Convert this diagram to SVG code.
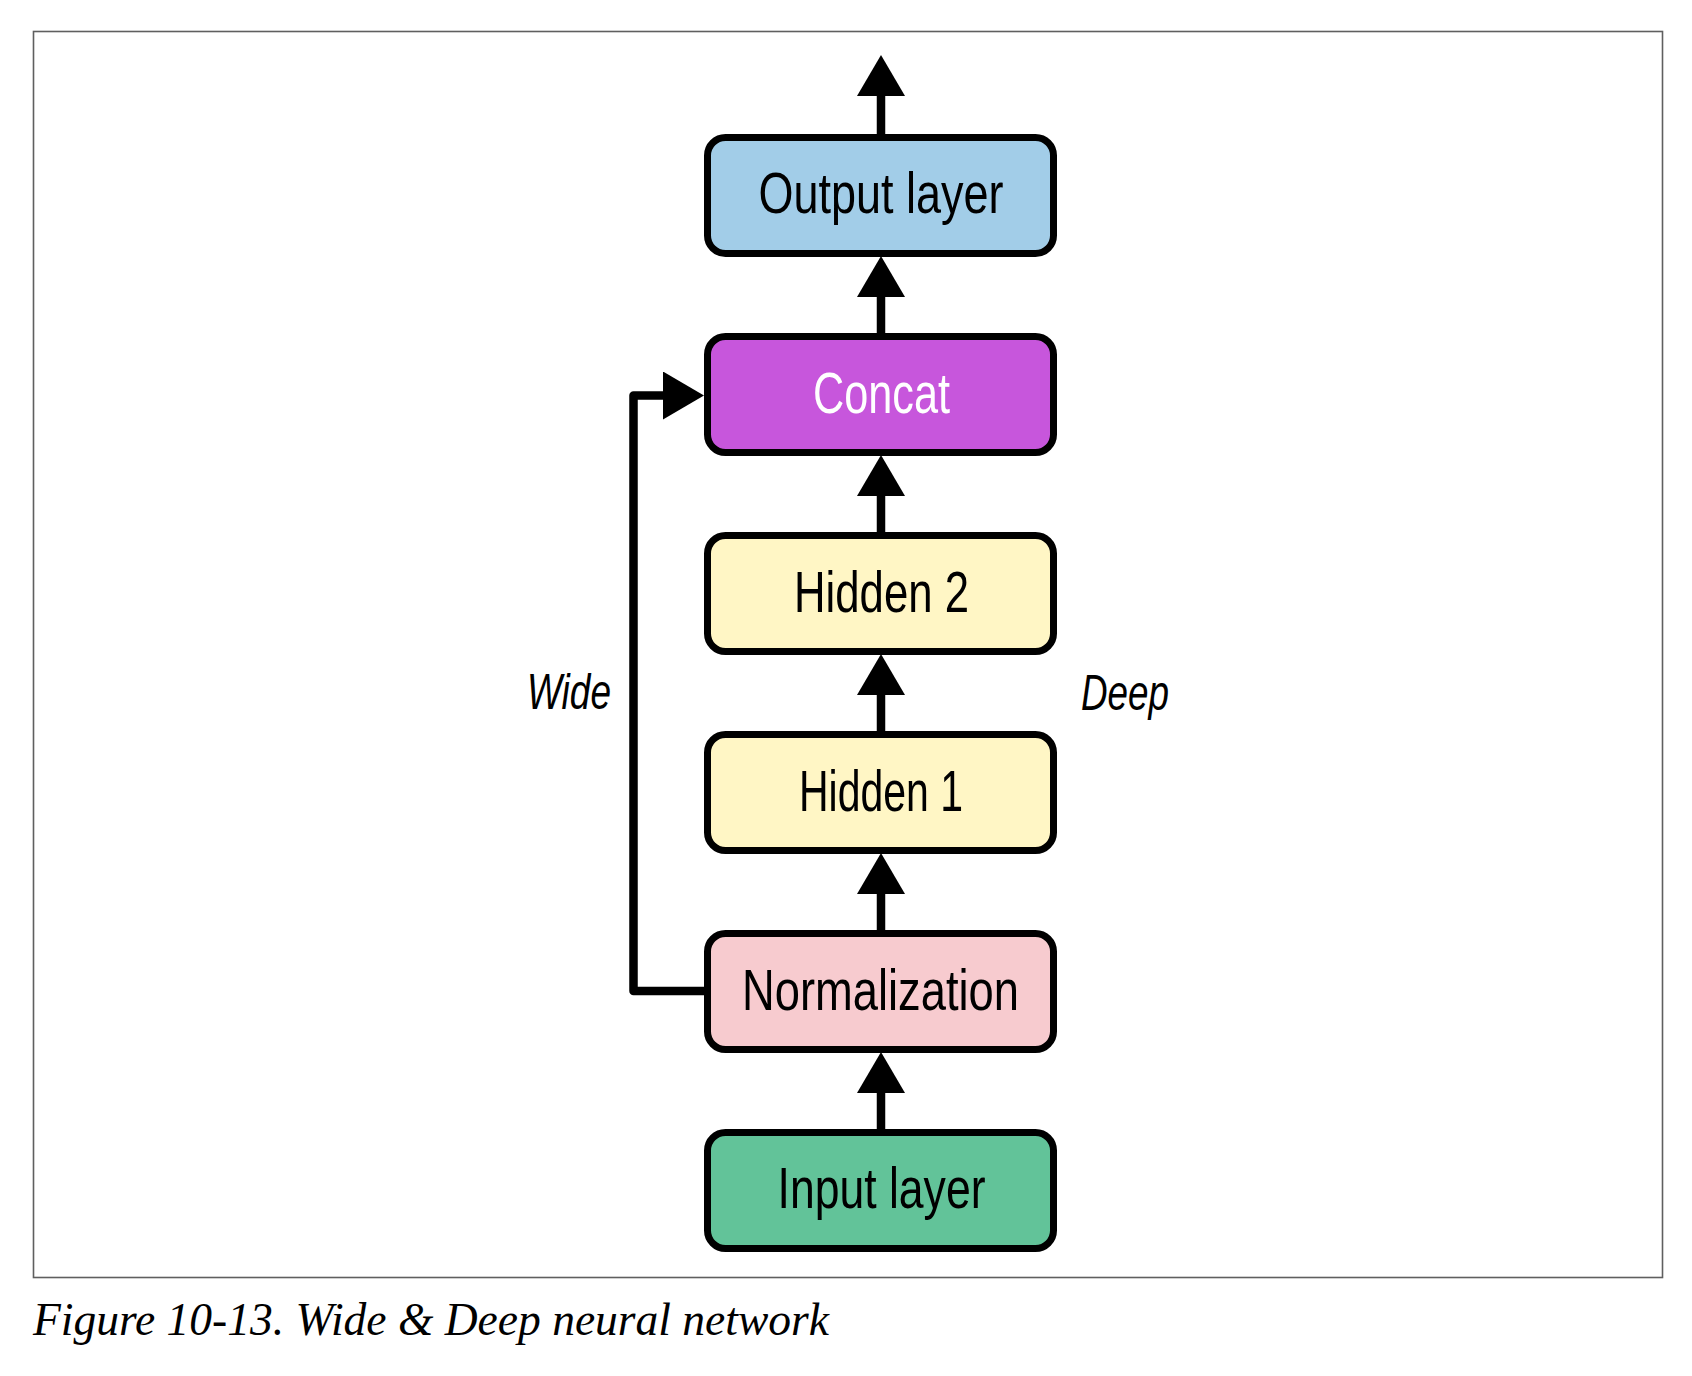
<svg xmlns="http://www.w3.org/2000/svg" width="1692" height="1376" viewBox="0 0 1692 1376">
  <style>
    .frame { fill: none; stroke: #5f5f5f; stroke-width: 1.6; }
    .node rect { stroke: #000; stroke-width: 7; }
    .label { font-family: "Liberation Sans Narrow", "Liberation Sans", Arial, sans-serif; font-size: 57px; text-anchor: middle; fill: #000; }
    .side { font-family: "Liberation Sans Narrow", "Liberation Sans", Arial, sans-serif; font-size: 50px; font-style: italic; fill: #000; }
    .caption { font-family: "Liberation Serif", "Times New Roman", serif; font-size: 47px; font-style: italic; fill: #000; }
    .link { fill: none; stroke: #000; stroke-width: 8.5; stroke-linejoin: round; marker-end: url(#head); }
  </style>
  <defs>
    <marker id="head" viewBox="0 0 41 48" refX="0" refY="24" markerWidth="41" markerHeight="48" markerUnits="userSpaceOnUse" orient="auto">
      <path d="M0,0 L41,24 L0,48 Z" fill="#000"/>
    </marker>
  </defs>

  <rect class="frame" x="33.5" y="31.5" width="1629" height="1246"/>

  <!-- connectors -->
  <g id="connectors">
    <path class="link" d="M881,134 V96"/>
    <path class="link" d="M881,333 V297"/>
    <path class="link" d="M881,532 V496"/>
    <path class="link" d="M881,731 V695"/>
    <path class="link" d="M881,930 V894"/>
    <path class="link" d="M881,1129 V1093"/>
    <path class="link" d="M706,991 H633.5 V395.5 H663"/>
  </g>

  <!-- layers, top to bottom -->
  <g id="output-layer" class="node">
    <rect x="707.5" y="137.5" width="346" height="116" rx="18" fill="#a2cde8"/>
    <text class="label" x="881" y="213" textLength="245" lengthAdjust="spacingAndGlyphs">Output layer</text>
  </g>
  <g id="concat" class="node">
    <rect x="707.5" y="336.5" width="346" height="116" rx="18" fill="#c756dc"/>
    <text class="label" x="881.5" y="413" textLength="137" lengthAdjust="spacingAndGlyphs" style="fill:#fff">Concat</text>
  </g>
  <g id="hidden-2" class="node">
    <rect x="707.5" y="535.5" width="346" height="116" rx="18" fill="#fff6c5"/>
    <text class="label" x="881.5" y="611.5" textLength="175" lengthAdjust="spacingAndGlyphs">Hidden 2</text>
  </g>
  <g id="hidden-1" class="node">
    <rect x="707.5" y="734.5" width="346" height="116" rx="18" fill="#fff6c5"/>
    <text class="label" x="881" y="810.5" textLength="164" lengthAdjust="spacingAndGlyphs">Hidden 1</text>
  </g>
  <g id="normalization" class="node">
    <rect x="707.5" y="933.5" width="346" height="116" rx="18" fill="#f7cbcf"/>
    <text class="label" x="880.5" y="1009.5" textLength="277" lengthAdjust="spacingAndGlyphs">Normalization</text>
  </g>
  <g id="input-layer" class="node">
    <rect x="707.5" y="1132.5" width="346" height="116" rx="18" fill="#62c399"/>
    <text class="label" x="881.5" y="1207.5" textLength="208" lengthAdjust="spacingAndGlyphs">Input layer</text>
  </g>

  <!-- path labels -->
  <g id="path-labels">
    <text class="side" x="527" y="709" textLength="84" lengthAdjust="spacingAndGlyphs">Wide</text>
    <text class="side" x="1081" y="710" textLength="88" lengthAdjust="spacingAndGlyphs">Deep</text>
  </g>

  <text class="caption" x="33" y="1335" textLength="796" lengthAdjust="spacingAndGlyphs">Figure 10-13. Wide &amp; Deep neural network</text>
</svg>
